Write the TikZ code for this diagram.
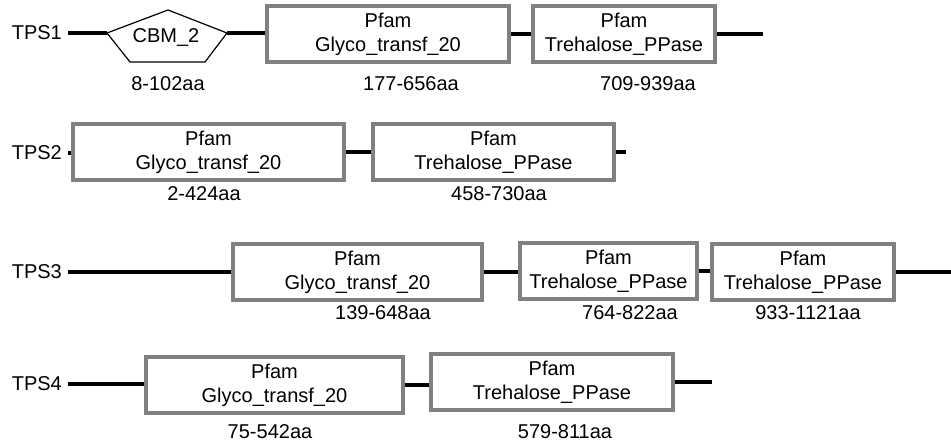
\documentclass[tikz,border=0pt]{standalone}
\usepackage{fontspec}
\setmainfont{Liberation Sans}
\usetikzlibrary{positioning}
\definecolor{boxgray}{RGB}{128,128,128}

\begin{document}
\begin{tikzpicture}[
    x=1pt, y=-1pt,
    protein/.style={anchor=east, inner sep=0pt, inner xsep=6pt,
                    font=\fontsize{20}{24}\selectfont},
    pfambox/.style={rectangle, draw=boxgray, line width=3.2pt, fill=white,
                   minimum height=56pt, inner sep=0pt, align=center,
                   font=\fontsize{20}{24}\selectfont},
    aarange/.style={inner sep=0pt, font=\fontsize{20}{24}\selectfont},
    backbone/.style={line width=4pt, draw=black}
]
    \useasboundingbox (0,0) rectangle (951,443);

    % TPS1
    \node[protein] (tps1) at (68,33) {TPS1};
    \node[aarange] (cbm) at (166,38) {CBM\_2};
    \draw[line width=1.2pt] (107,33) coordinate (cbmL) -- (168,10) -- (227,33) coordinate (cbmR)
        -- (205,62) -- (130,62) -- cycle;
    \node[pfambox, minimum width=242pt] (gt1) at (388,34) {Pfam\\Glyco\_transf\_20};
    \node[pfambox, minimum width=182pt] (tp1) at (624,34) {Pfam\\Trehalose\_PPase};
    \coordinate (end1) at (763,34);
    \node[aarange] at (168,84) {8-102aa};
    \node[aarange] at (411,84) {177-656aa};
    \node[aarange] at (648,84) {709-939aa};

    % TPS2
    \node[protein] (tps2) at (68,153) {TPS2};
    \node[pfambox, minimum width=271pt] (gt2) at (208.5,152) {Pfam\\Glyco\_transf\_20};
    \node[pfambox, minimum width=241pt] (tp2) at (493.5,152) {Pfam\\Trehalose\_PPase};
    \coordinate (end2) at (626,153);
    \node[aarange] at (204,194) {2-424aa};
    \node[aarange] at (499,194) {458-730aa};

    % TPS3
    \node[protein] (tps3) at (68,272) {TPS3};
    \node[pfambox, minimum width=249pt] (gt3) at (357.5,272) {Pfam\\Glyco\_transf\_20};
    \node[pfambox, minimum width=177pt] (tp3a) at (608.5,271) {Pfam\\Trehalose\_PPase};
    \node[pfambox, minimum width=182pt] (tp3b) at (803,272) {Pfam\\Trehalose\_PPase};
    \coordinate (end3) at (951,272);
    \node[aarange] at (383,313) {139-648aa};
    \node[aarange] at (630,313) {764-822aa};
    \node[aarange] at (808,313) {933-1121aa};

    % TPS4
    \node[protein] (tps4) at (68,384) {TPS4};
    \node[pfambox, minimum width=257pt] (gt4) at (274.5,385) {Pfam\\Glyco\_transf\_20};
    \node[pfambox, minimum width=242pt] (tp4) at (552,382) {Pfam\\Trehalose\_PPase};
    \coordinate (end4) at (712,384);
    \node[aarange] at (270,432) {75-542aa};
    \node[aarange] at (565,432) {579-811aa};

    \foreach \a/\b in {tps1.east/cbmL, cbmR/gt1.west, gt1.east/tp1.west, tp1.east/end1,
                       tps2.east/gt2.west, gt2.east/tp2.west, tp2.east/end2,
                       tps3.east/gt3.west, gt3.east/tp3a.west, tp3a.east/tp3b.west, tp3b.east/end3,
                       tps4.east/gt4.west, gt4.east/tp4.west, tp4.east/end4}
        \draw[backbone] (\a) -- (\b |- \a);
\end{tikzpicture}
\end{document}
